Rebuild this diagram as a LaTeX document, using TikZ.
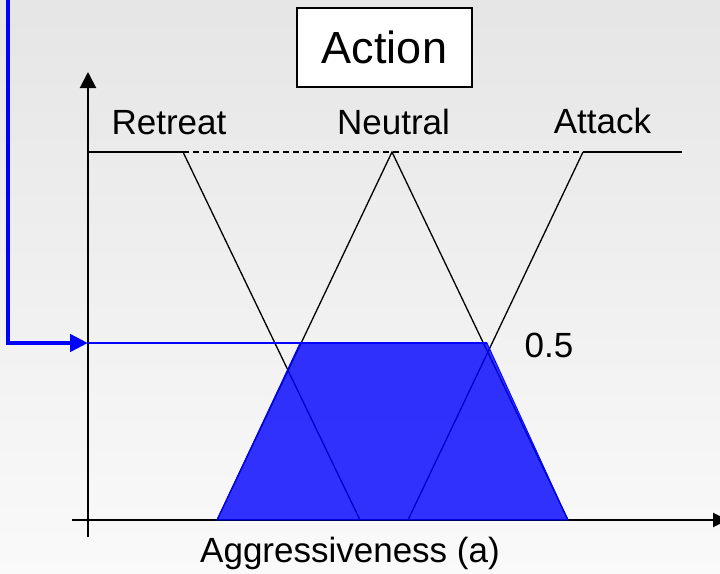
\documentclass[tikz,border=0pt]{standalone}
\usepackage{fontspec}
\setmainfont{Liberation Sans}
\usetikzlibrary{arrows.meta}

\begin{document}
\begin{tikzpicture}[x=1pt, y=-1pt,
    mf/.style={line width=1.3pt},
    lbl/.style={font=\fontsize{35}{40}\selectfont, inner sep=0pt, anchor=base}]

    % background
    \shade[top color=black!10, bottom color=black!2] (0,0) rectangle (720,573);
    \useasboundingbox (0,0) rectangle (720,573);

    % axes
    \draw[line width=2pt, -{Triangle[length=16pt,width=16pt]}] (88,537) -- (88,72);
    \draw[line width=2pt, -{Triangle[length=15pt,width=14pt]}] (72,520) -- (728,520);

    % membership functions
    \coordinate (R1) at (183,152);
    \coordinate (N1) at (392,152);
    \coordinate (A1) at (583,152);

    % retreat
    \draw[mf] (R1) -- (360,520);
    \draw[line width=2pt] (88,152) -- (R1);

    % neutral
    \draw[mf] (217,520) -- (N1) -- (568,520);

    % attack
    \draw[mf] (408,520) -- (A1);
    \draw[line width=2pt] (A1) -- (682,152);

    % dashed top
    \draw[line width=1.3pt, dash pattern=on 6pt off 4pt] (R1) -- (A1);

    % clipped output at 0.5
    \draw[blue, line width=0.8pt, fill=blue, fill opacity=0.8]
      (217,520) -- (300,343) -- (487,343) -- (568,520) -- cycle;
    \draw[blue, line width=1.5pt] (88,343) -- (487,343);

    % input arrow
    \draw[blue, line width=4.5pt, -{Triangle[length=18pt,width=17pt]}]
      (8,-5) -- (8,343) -- (88,343);

    % labels
    \node[lbl] (retreat) at (169,134) {Retreat};
    \node[lbl] (neutral) at (393.5,134) {Neutral};
    \node[lbl] (attack) at (602.5,133) {Attack};
    \node[lbl] (half) at (549,357) {0.5};
    \node[lbl, anchor=base west] (xlabel) at (200,562) {Aggressiveness (a)};

    % title
    \node[draw, fill=white, line width=2pt, inner sep=0pt,
      minimum width=175pt, minimum height=79pt,
      font=\fontsize{45}{50}\selectfont] (action) at (384.5,47) {Action};

\end{tikzpicture}
\end{document}
